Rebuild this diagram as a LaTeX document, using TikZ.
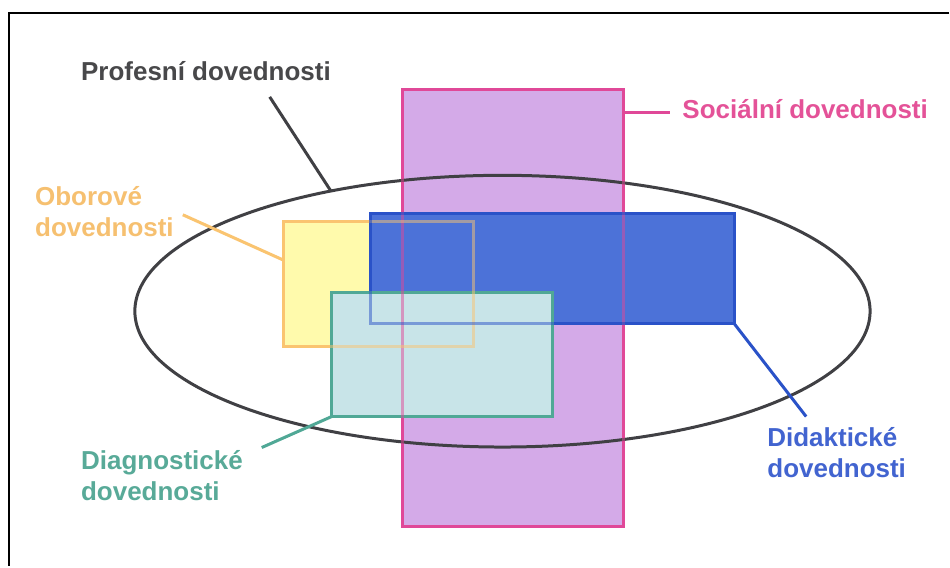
\documentclass[tikz,border=0pt]{standalone}
\usepackage{fontspec}
\setmainfont{Liberation Sans}
\usepackage{tikz}
\usetikzlibrary{shapes,positioning}

\definecolor{socfill}{RGB}{212,170,232}
\definecolor{socline}{RGB}{224,72,152}
\definecolor{socText}{RGB}{228,82,152}
\definecolor{didfill}{RGB}{76,114,216}
\definecolor{didline}{RGB}{42,82,200}
\definecolor{didText}{RGB}{66,100,208}
\definecolor{obfill}{RGB}{255,250,172}
\definecolor{obline}{RGB}{250,196,112}
\definecolor{obText}{RGB}{246,192,112}
\definecolor{diagfill}{RGB}{200,228,232}
\definecolor{diagline}{RGB}{80,168,150}
\definecolor{diagText}{RGB}{88,170,152}
\definecolor{profline}{RGB}{64,64,68}
\definecolor{profText}{RGB}{72,72,74}

\begin{document}
\begin{tikzpicture}[x=1pt, y=-1pt]
		\tikzstyle{Area}	= [rectangle, draw, line width=3pt, inner sep=0pt, outer sep=0pt]
		\tikzstyle{Social}	= [Area, draw=socline, fill=socfill, minimum width=221pt, minimum height=437pt]
		\tikzstyle{Subject}	= [Area, draw=obline, fill=obfill, minimum width=190pt, minimum height=125pt]
		\tikzstyle{Didactic}	= [Area, draw=didline, fill=didfill, minimum width=364pt, minimum height=110pt]
		\tikzstyle{Diagnostic}	= [Area, draw=diagline, fill=diagfill, minimum width=221pt, minimum height=124pt]
		\tikzstyle{Whole}	= [ellipse, draw=profline, line width=3pt, inner sep=0pt, outer sep=0pt, minimum width=736pt, minimum height=272pt]
		\tikzstyle{Label}	= [inner sep=0pt, anchor=base west, align=left, font=\fontsize{26}{31}\selectfont\bfseries]
		\tikzstyle{Leader}	= [line width=3pt]
		\tikzstyle{Over}	= [line width=3pt, draw opacity=0.5]

		\fill [white] (0, 0) rectangle (950, 567);
		\draw [line width=2pt] (950, 13) -- (9, 13) -- (9, 567);

		% areas
		\node (soc) at (513.5, 308.5) [Social] {};
		\node (prof) at (503, 311.5) [Whole] {};
		\node (obor) at (379, 284.5) [Subject] {};
		\node (did) at (553, 269) [Didactic] {};
		\node (diag) at (442.5, 355) [Diagnostic] {};

		% borders seen through the fills
		\draw [Over, socline] (soc.north west) rectangle (soc.south east);
		\draw [Over, obline] (obor.north west) rectangle (obor.south east);
		\draw [Over, didline] (did.north west) rectangle (did.south east);

		% labels (base = last line)
		\node (lprof) at (81, 81) [Label, text=profText] {Profesní dovednosti};
		\node (lsoc) at (683, 119) [Label, text=socText] {Sociální dovednosti};
		\node (lobor) at (35, 237) [Label, text=obText] {Oborové\\dovednosti};
		\node (ldiag) at (81, 501) [Label, text=diagText] {Diagnostické\\dovednosti};
		\node (ldid) at (768, 478) [Label, text=didText] {Didaktické\\dovednosti};

		\coordinate (cprof) at (270, 97);
		\coordinate (csoc) at (671, 113);
		\coordinate (cobor) at (183, 215);
		\coordinate (cdiag) at (262, 448);
		\coordinate (cdid) at (807, 417);

		\draw [-] (prof.145) to (cprof) [Leader, profline];
		\draw [-] ([yshift=-23pt]soc.north east) to (csoc) [Leader, socline];
		\draw [-] ([yshift=24pt]obor.west) to (cobor) [Leader, obline];
		\draw [-] (diag.south west) to (cdiag) [Leader, diagline];
		\draw [-] (did.south east) to (cdid) [Leader, didline];
	\end{tikzpicture}
\end{document}
